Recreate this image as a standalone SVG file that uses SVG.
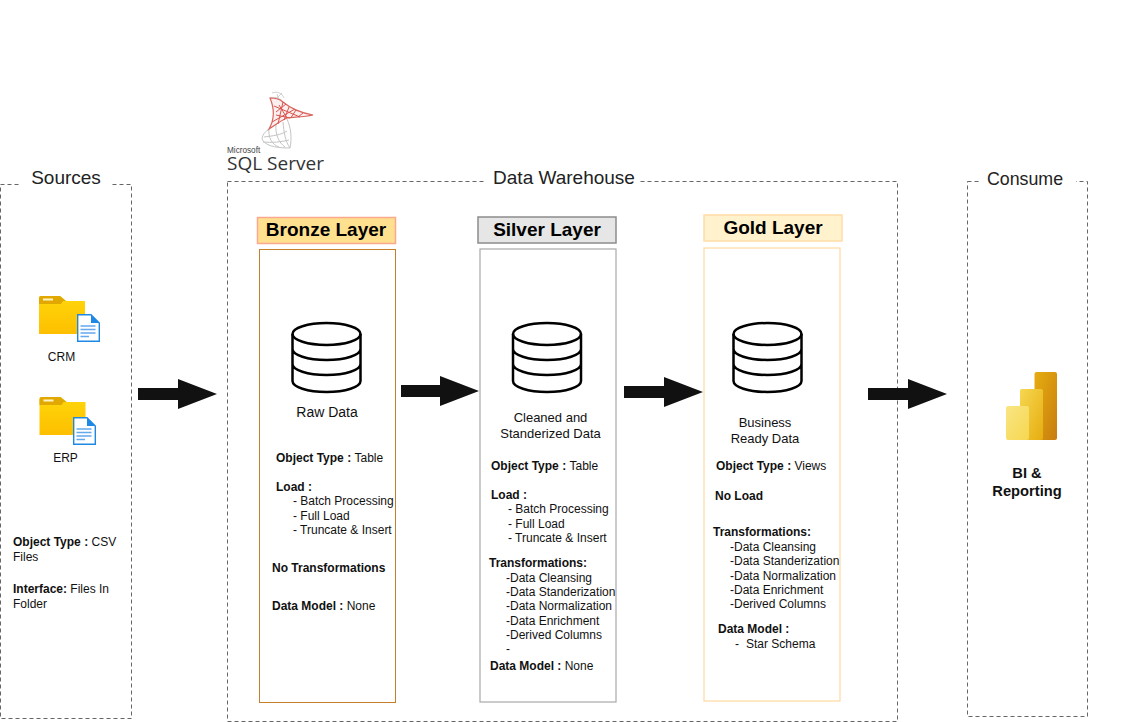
<svg xmlns="http://www.w3.org/2000/svg" width="1128" height="722" viewBox="0 0 1128 722">
<style>
text{font-family:"Liberation Sans",Arial,sans-serif;fill:#111}
.b{font-weight:700}
.s{font-size:12px}
.l{font-size:13px}
.h{font-size:19px;font-weight:700;text-anchor:middle;fill:#000}
.t{font-size:19px;text-anchor:middle;fill:#222}
.c{text-anchor:middle}
.d{fill:none;stroke:#666;stroke-width:1;stroke-dasharray:4 3}
.m{fill:none;stroke:#000;stroke-width:2.500}
.a{fill:#111;stroke:none}
</style>
<defs>
<linearGradient id="f" x1="0" y1="0" x2="0" y2="1"><stop offset="0" stop-color="#ffd60a"/><stop offset="1" stop-color="#fdbf00"/></linearGradient>
<linearGradient id="p3" x1="0" y1="0" x2="1" y2="1"><stop offset="0" stop-color="#e6ad10"/><stop offset="1" stop-color="#c87d0e"/></linearGradient>
<linearGradient id="p2" x1="0" y1="0" x2="1" y2="1"><stop offset="0" stop-color="#f6d751"/><stop offset="1" stop-color="#e6ad10"/></linearGradient>
<linearGradient id="p1" x1="0" y1="0" x2="1" y2="1"><stop offset="0" stop-color="#f9e583"/><stop offset="1" stop-color="#f6d751"/></linearGradient>
<g id="db">
<ellipse cx="0" cy="-24" rx="34" ry="11" class="m"/>
<path class="m" d="M-34-24V23C-34 29-19 34 0 34S34 29 34 23V-24M-34-9C-34-3-19 2 0 2S34-3 34-9M-34 6C-34 12-19 17 0 17S34 12 34 6"/>
</g>
<g id="folder">
<path d="M0 2Q0 0 2 0H21L27 5H46V38H0Z" fill="url(#f)"/>
<path d="M0 2Q0 0 2 0H21L27 5H24L22 8H0Z" fill="#e0a800"/>
<rect x="4" y="2.500" width="10" height="2" fill="#fff3c4"/>
</g>
<g id="doc">
<path d="M0.700 0.700H14L22.300 9V27.300H0.700Z" fill="#fff" stroke="#1e88e5" stroke-width="1.400"/>
<path d="M14 .7V9H22.300Z" fill="#1e88e5"/>
<path d="M3.500 12H18.500M3.500 15.500H18.500M3.500 19H18.500M3.500 22.500H12" stroke="#64a8ee" stroke-width="1.300"/>
</g>
</defs>

<g id="sql-server-logo">
<path d="M272 93C277 91 282 93 284 98M270 98C276 96 281 99 283 102M272 97L270 99M277 94L279 101M282 93L276 99" fill="none" stroke="#cfcfcf" stroke-width="1"/>
<path d="M269 129C263 133 261 138 263 141 268 147 280 148 290 148M269 129C268 137 272 145 279 147M276 125C275 134 279 143 285 147M283 122C284 132 285 141 290 148M264 137C272 136 281 135 287 131M263 142C272 143 281 142 289 140M290 148C292 138 291 128 287 119" fill="none" stroke="#c4c4c4" stroke-width="1"/>
<path d="M270 98C276 98 281 100 283 102 290 108 302 113 313 115 304 117 295 117 287 118 280 121 274 126 269 129 273 122 276 112 270 98Z" fill="#fbeeee" stroke="#d9665e" stroke-width="1.200"/>
<path d="M283 102L278 124M289 107L284 120M296 110L291 117.500M303 113L298 117M274 106L300 117M276 115L290 118M272 122L295 109M279 105L287 118M276 112L286 104" fill="none" stroke="#d9534c" stroke-width="1"/>
<text x="227" y="153" font-size="8.200" style="fill:#444">Microsoft</text>
<text x="227" y="170" font-size="19" textLength="97" lengthAdjust="spacingAndGlyphs" style="font-family:'Open Sans',sans-serif;fill:#333">SQL Server</text>
</g>

<g id="sources">
<rect class="d" x="0.500" y="184.500" width="131" height="534"/>
<rect x="20" y="175" width="92" height="20" fill="#fff"/>
<text class="t" x="66" y="184">Sources</text>
<use href="#folder" x="39" y="296"/>
<use href="#doc" x="77" y="314"/>
<text class="s c" x="61.500" y="361">CRM</text>
<use href="#folder" x="39.500" y="397"/>
<use href="#doc" x="73" y="417"/>
<text class="s c" x="65.500" y="462">ERP</text>
<text class="s" x="13" y="546"><tspan class="b">Object Type : </tspan>CSV</text>
<text class="s" x="13" y="561">Files</text>
<text class="s" x="13" y="593"><tspan class="b">Interface: </tspan>Files In</text>
<text class="s" x="13" y="608">Folder</text>
</g>

<g id="data-warehouse">
<rect class="d" x="227.500" y="181.500" width="670" height="540"/>
<rect x="486" y="170" width="154" height="24" fill="#fff"/>
<text class="t" x="564" y="184">Data Warehouse</text>
</g>

<g id="bronze-layer">
<rect x="257.500" y="217.500" width="138" height="26" fill="#ffe08f" stroke="#fba98e" stroke-width="1.500"/>
<text class="h" x="326" y="236">Bronze Layer</text>
<rect x="259.500" y="249.500" width="136" height="453" fill="#fff" stroke="#c47f2c"/>
<use href="#db" x="326.500" y="358"/>
<text x="327" y="417" font-size="14" class="c">Raw Data</text>
<text class="s" x="276" y="462"><tspan class="b">Object Type : </tspan>Table</text>
<text class="s b" x="276" y="491">Load :</text>
<text class="s" x="293" y="505">- Batch Processing</text>
<text class="s" x="293" y="520">- Full Load</text>
<text class="s" x="293" y="534">- Truncate &amp; Insert</text>
<text class="s b" x="272" y="572">No Transformations</text>
<text class="s" x="272" y="610"><tspan class="b">Data Model : </tspan>None</text>
</g>

<g id="silver-layer">
<rect x="478" y="217" width="138" height="26" fill="#e6e6e6" stroke="#8c8c8c" stroke-width="1.500"/>
<text class="h" x="547" y="236">Silver Layer</text>
<rect x="480" y="249" width="136" height="453" fill="#fff" stroke="#a8a8a8" stroke-width="1.200"/>
<use href="#db" x="547" y="358"/>
<text class="l c" x="550.500" y="422">Cleaned and</text>
<text class="l c" x="550.500" y="438">Standerized Data</text>
<text class="s" x="491" y="470"><tspan class="b">Object Type : </tspan>Table</text>
<text class="s b" x="491" y="499">Load :</text>
<text class="s" x="508" y="513">- Batch Processing</text>
<text class="s" x="508" y="528">- Full Load</text>
<text class="s" x="508" y="542">- Truncate &amp; Insert</text>
<text class="s b" x="489" y="567">Transformations:</text>
<text class="s" x="506" y="582">-Data Cleansing</text>
<text class="s" x="506" y="596">-Data Standerization</text>
<text class="s" x="506" y="610">-Data Normalization</text>
<text class="s" x="506" y="625">-Data Enrichment</text>
<text class="s" x="506" y="639">-Derived Columns</text>
<text class="s" x="506" y="653">-</text>
<text class="s" x="490" y="670"><tspan class="b">Data Model : </tspan>None</text>
</g>

<g id="gold-layer">
<rect x="704" y="215" width="138" height="26" fill="#fff2cc" stroke="#ffdca8" stroke-width="1.500"/>
<text class="h" x="773" y="234">Gold Layer</text>
<rect x="704" y="248" width="136" height="453" fill="#fff" stroke="#ffd9a0" stroke-width="1.200"/>
<use href="#db" x="767.500" y="358"/>
<text class="l c" x="765" y="427">Business</text>
<text class="l c" x="765" y="443">Ready Data</text>
<text class="s" x="716" y="470"><tspan class="b">Object Type : </tspan>Views</text>
<text class="s b" x="715" y="500">No Load</text>
<text class="s b" x="713" y="536">Transformations:</text>
<text class="s" x="730" y="551">-Data Cleansing</text>
<text class="s" x="730" y="565">-Data Standerization</text>
<text class="s" x="730" y="580">-Data Normalization</text>
<text class="s" x="730" y="594">-Data Enrichment</text>
<text class="s" x="730" y="608">-Derived Columns</text>
<text class="s b" x="718" y="633">Data Model :</text>
<text class="s" x="735" y="648">- <tspan x="746">Star Schema</tspan></text>
</g>

<g id="consume">
<rect class="d" x="967.500" y="181.500" width="120" height="535"/>
<rect x="980" y="170" width="96" height="22" fill="#fff"/>
<text x="1025" y="185" font-size="17.800" class="c" style="fill:#222">Consume</text>
<rect x="1034.500" y="372" width="22.500" height="68" rx="2" fill="url(#p3)"/>
<rect x="1020" y="389" width="23" height="51" rx="2" fill="url(#p2)"/>
<rect x="1006" y="406" width="23" height="34" rx="2" fill="url(#p1)"/>
<text class="b c" font-size="14.700" x="1027" y="478">BI &amp;</text>
<text class="b c" font-size="14.700" x="1027" y="496">Reporting</text>
</g>

<g id="connectors">
<path class="a" d="M138 388H178V379L217 394 178 409V400H138Z"/>
<path class="a" d="M401 385H440V376L479 391 440 406V397H401Z"/>
<path class="a" d="M624 386H664V377L703 392 664 407V398H624Z"/>
<path class="a" d="M868 388H908V379L947 394 908 409V400H868Z"/>
</g>
</svg>
